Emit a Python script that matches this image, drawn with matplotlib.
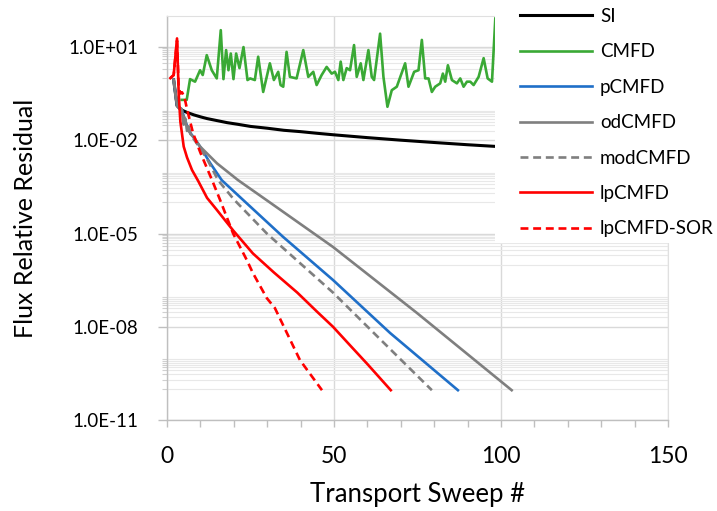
import matplotlib
matplotlib.use("Agg")
import matplotlib.pyplot as plt
import matplotlib.patches as mpatches
from matplotlib.ticker import FixedLocator, FuncFormatter, NullFormatter, MultipleLocator

plt.rcParams["font.family"] = ["Lato", "DejaVu Sans"]

# residual history per method (x = transport sweep, y = flux relative residual)
si_x = [2, 3, 4, 5, 6, 8, 10, 12, 15, 18, 21, 25, 30, 35, 40, 45, 50, 60, 70, 80, 90, 98]
si_y = [0.87, 0.13, 0.10, 0.088, 0.079, 0.066, 0.057, 0.050, 0.043, 0.037, 0.033,
        0.028, 0.0245, 0.021, 0.019, 0.0168, 0.0150, 0.0122, 0.0101, 0.0085,
        0.0072, 0.0064]

cmfd_x = [4.4, 5.9, 6.9, 8.4, 9.9, 10.7, 11.9, 13.4, 14.9, 16.1, 16.9, 17.7, 18.4,
          19.1, 19.9, 20.7, 21.7, 22.9, 24.1, 24.9, 26.3, 27.3, 28.8, 30.8, 32.0,
          33.3, 34.0, 34.8, 35.8, 36.8, 38.8, 40.8, 42.3, 43.8, 44.8, 46.3, 47.8,
          49.3, 50.3, 51.3, 52.0, 52.8, 53.8, 54.8, 56.0, 56.8, 58.0, 58.8, 60.3,
          61.3, 62.0, 63.8, 64.8, 66.0, 67.3, 68.8, 71.3, 72.3, 74.0, 75.3, 76.3,
          77.3, 78.3, 79.3, 80.3, 81.8, 82.6, 83.3, 84.1, 85.3, 86.8, 87.8, 88.8,
          89.8, 90.8, 91.8, 93.3, 94.8, 96.0, 97.3, 98.3]
cmfd_y = [0.2, 0.2, 0.93, 0.77, 1.8, 1.26, 5.5, 1.8, 0.98, 35, 0.93, 8, 1.8,
          6.2, 0.93, 6.2, 2.1, 10, 0.87, 0.98, 0.87, 4.9, 0.36, 3, 0.87,
          1.6, 0.6, 0.53, 7, 1.1, 0.98, 8, 1.1, 1.6, 0.6, 1.26, 2.3,
          1.4, 1.6, 0.87, 3.4, 0.87, 2.1, 1.8, 11.6, 1.1, 3, 0.87, 8,
          1.1, 0.87, 27, 1.1, 0.12, 0.41, 0.53, 3, 0.53, 1.6, 1.8, 17,
          0.98, 0.98, 0.36, 0.53, 0.68, 1.4, 0.77, 2.6, 0.87, 0.68, 0.98, 0.53,
          0.77, 0.77, 0.6, 1.1, 4.4, 0.98, 0.77, 83]

pcmfd_x = [2, 3, 4.4, 5.5, 6.9, 9.9, 13, 16.4, 22.8, 34.7, 49.7, 66.8, 87.1]
pcmfd_y = [0.87, 0.13, 0.1, 0.04, 0.018, 6.3e-3, 1.8e-3, 5.2e-4, 1.2e-4,
           7.9e-6, 3.2e-7, 6.3e-9, 9.1e-11]

odcmfd_x = [2, 3, 4.4, 5, 5.5, 6, 6.5, 7, 8, 9.9, 15, 21.3, 30.8, 49.7, 74.8, 103.2]
odcmfd_y = [0.87, 0.13, 0.1, 0.032, 0.05, 0.02, 0.028, 0.016, 0.0126, 6.3e-3,
            1.8e-3, 5.2e-4, 1.0e-4, 3.7e-6, 2.8e-8, 9.1e-11]

modcmfd_x = [2, 3, 4.4, 6, 8, 9.9, 12, 15.3, 20, 29.9, 49.7, 64.7, 79.3]
modcmfd_y = [0.87, 0.13, 0.1, 0.025, 0.011, 5.6e-3, 2.5e-3, 5.2e-4, 1.26e-4,
             1.0e-5, 1.26e-7, 3.2e-9, 9.1e-11]

lpcmfd_x = [1, 2, 3, 3.5, 4, 5, 6, 7.5, 9.3, 12, 14.9, 19.8, 25.7, 32, 39, 45,
            49.7, 55, 60, 67]
lpcmfd_y = [1.0, 1.26, 19, 0.32, 0.04, 6.3e-3, 2.8e-3, 1.1e-3, 5.0e-4, 1.4e-4,
            5.8e-5, 1.26e-5, 2.3e-6, 5.6e-7, 1.26e-7, 3.0e-8, 1.0e-8, 2.4e-9,
            6.3e-10, 9.1e-11]

sor_x = [1, 2, 3, 3.5, 4, 4.5, 5.2, 6, 7.8, 10, 13.5, 15.9, 19.8, 23.9, 25.7,
         29.9, 32.3, 35.9, 39.8, 46.4]
sor_y = [1.0, 1.26, 16, 0.5, 0.32, 0.35, 0.25, 0.1, 0.017, 4.0e-3, 5.2e-4,
         1.2e-4, 1.0e-5, 1.4e-6, 5.4e-7, 8.3e-8, 4.0e-8, 6.3e-9, 8.5e-10, 9.1e-11]

y_major = [1e-11, 1e-8, 1e-5, 1e-2, 1e1]
y_minor = [k * 10.0 ** n for n in (0, -2, -4, -6, -8, -10) for k in range(1, 10)]

fig = plt.figure(figsize=(7.17, 5.11), dpi=100)
ax = fig.add_axes([167 / 717, 1 - 420 / 511, 501 / 717, 404 / 511])
ax.set_axisbelow(True)

ax.plot(si_x, si_y, color="#000000", lw=2.2, label="SI")
ax.plot(cmfd_x, cmfd_y, color="#3aa935", lw=1.9, label="CMFD")
ax.plot(pcmfd_x, pcmfd_y, color="#1f6fc8", lw=1.9, label="pCMFD")
ax.plot(odcmfd_x, odcmfd_y, color="#7f7f7f", lw=1.9, label="odCMFD")
ax.plot(modcmfd_x, modcmfd_y, color="#7f7f7f", lw=1.9, ls=(0, (3, 1.8)), label="modCMFD")
ax.plot(lpcmfd_x, lpcmfd_y, color="#ff0000", lw=1.9, label="lpCMFD")
ax.plot(sor_x, sor_y, color="#ff0000", lw=1.9, ls=(0, (3, 1.8)), label="lpCMFD-SOR")

ax.set_yscale("log")
ax.set_ylim(1e-11, 1e2)
ax.set_xlim(0, 150)
ax.yaxis.set_major_locator(FixedLocator(y_major))
ax.yaxis.set_minor_locator(FixedLocator(y_minor))
ax.yaxis.set_major_formatter(FuncFormatter(lambda v, p: f"{v:.1E}"))
ax.yaxis.set_minor_formatter(NullFormatter())
ax.xaxis.set_major_locator(MultipleLocator(50))
ax.xaxis.set_minor_locator(MultipleLocator(10))

ax.grid(which="major", axis="both", color="#d9d9d9", lw=1.0)
ax.grid(which="minor", axis="y", color="#e8e8e8", lw=0.8)

for s in ["left", "bottom"]:
    ax.spines[s].set_color("#bfbfbf")
    ax.spines[s].set_linewidth(1.0)
for s in ["top", "right"]:
    ax.spines[s].set_color("#e0e0e0")
    ax.spines[s].set_linewidth(0.8)

ax.tick_params(axis="y", which="major", length=6.5, width=1, color="#bfbfbf",
               labelsize=13.5, pad=14)
ax.tick_params(axis="y", which="minor", length=3.5, width=0.8, color="#d0d0d0")
ax.tick_params(axis="x", which="both", length=5, width=1, color="#bfbfbf")
ax.tick_params(axis="x", which="major", labelsize=16.5, pad=14)

ax.set_xlabel("Transport Sweep #", fontsize=18.5)
ax.set_ylabel("Flux Relative Residual", fontsize=18)
ax.xaxis.set_label_coords(0.5, -0.185)
ax.yaxis.set_label_coords(-0.283, 0.5)
ax.xaxis.label.set_va("center")
ax.yaxis.label.set_va("center")

# white block behind the legend, covering the top right of the plot area
fig.add_artist(mpatches.Rectangle((495 / 717, 1 - 243 / 511), 222 / 717, 243 / 511,
                                  transform=fig.transFigure, facecolor="white",
                                  edgecolor="none", zorder=3))
leg = fig.legend(loc="upper left", bbox_to_anchor=(520 / 717, 1 - 8 / 511),
                 frameon=False, fontsize=13.5, handlelength=3.84, handletextpad=0.43,
                 labelspacing=0.98, borderpad=0, borderaxespad=0)
leg.set_zorder(5)

fig.savefig("out.png", dpi=100)
